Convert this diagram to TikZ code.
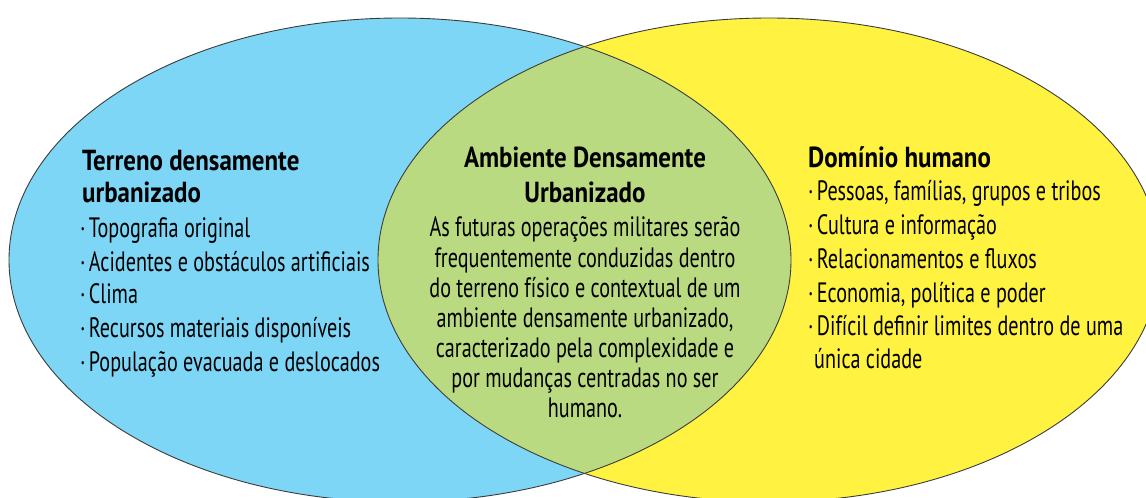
\documentclass[tikz,border=0pt]{standalone}
\usepackage{fontspec}
\setmainfont{PT Sans}[FakeStretch=0.72]
\newfontfamily\hdfont{PT Sans}[FakeStretch=0.86]
\definecolor{blueC}{HTML}{7DD6F5}
\definecolor{yelC}{HTML}{FFF240}
\definecolor{greenC}{HTML}{BADA82}
\definecolor{lineC}{HTML}{3C3C3C}
\tikzset{
  outline/.style={draw=lineC, line width=0.9pt},
  txt/.style={inner sep=0pt, anchor=base west, font=\fontsize{28}{33}\selectfont},
  hd/.style={txt, font=\hdfont\bfseries\fontsize{29}{33}\selectfont},
  ctxt/.style={txt, anchor=base},
  chd/.style={hd, anchor=base},
}
\newcommand{\bul}{·\hspace{0.12em}}
\begin{document}
\begin{tikzpicture}[x=1pt,y=1pt]
\useasboundingbox (0,0) rectangle (1146,498);
\begin{scope}
  \clip (0,0) rectangle (1146,498);
  \fill[blueC] (400,238) ellipse [x radius=391, y radius=242];
  \fill[yelC] (769,238) ellipse [x radius=391, y radius=242];
  \begin{scope}
    \clip (400,238) ellipse [x radius=391, y radius=242];
    \fill[greenC] (769,238) ellipse [x radius=391, y radius=242];
  \end{scope}
  \draw[outline] (400,238) ellipse [x radius=391, y radius=242];
  \draw[outline] (769,238) ellipse [x radius=391, y radius=242];
\end{scope}
% left block
\node[hd] (lh1) at (82,327) {Terreno densamente};
\node[hd] (lh2) at (82,295) {urbanizado};
\node[txt] (l1) at (80,260) {\bul Topografia original};
\node[txt] (l2) at (80,226) {\bul Acidentes e obstáculos artificiais};
\node[txt] (l3) at (80,194) {\bul Clima};
\node[txt] (l4) at (80,160) {\bul Recursos materiais disponíveis};
\node[txt] (l5) at (80,126) {\bul População evacuada e deslocados};
% middle block
\node[chd] (ch1) at (585,330) {Ambiente Densamente};
\node[chd] (ch2) at (585,295) {Urbanizado};
\node[ctxt] (c1) at (585,261) {As futuras operações militares serão};
\node[ctxt] (c2) at (585,230.8) {frequentemente conduzidas dentro};
\node[ctxt] (c3) at (585,200.6) {do terreno físico e contextual de um};
\node[ctxt] (c4) at (585,170.4) {ambiente densamente urbanizado,};
\node[ctxt] (c5) at (585,140.2) {caracterizado pela complexidade e};
\node[ctxt] (c6) at (585,110) {por mudanças centradas no ser};
\node[ctxt] (c7) at (585,80) {humano.};
% right block
\node[hd] (rh) at (808,330) {Domínio humano};
\node[txt] (r1) at (808,297) {\bul Pessoas, famílias, grupos e tribos};
\node[txt] (r2) at (808,263) {\bul Cultura e informação};
\node[txt] (r3) at (808,229) {\bul Relacionamentos e fluxos};
\node[txt] (r4) at (808,195) {\bul Economia, política e poder};
\node[txt] (r5) at (808,162) {\bul Difícil definir limites dentro de uma};
\node[txt] (r6) at (814,129) {única cidade};
\end{tikzpicture}
\end{document}
